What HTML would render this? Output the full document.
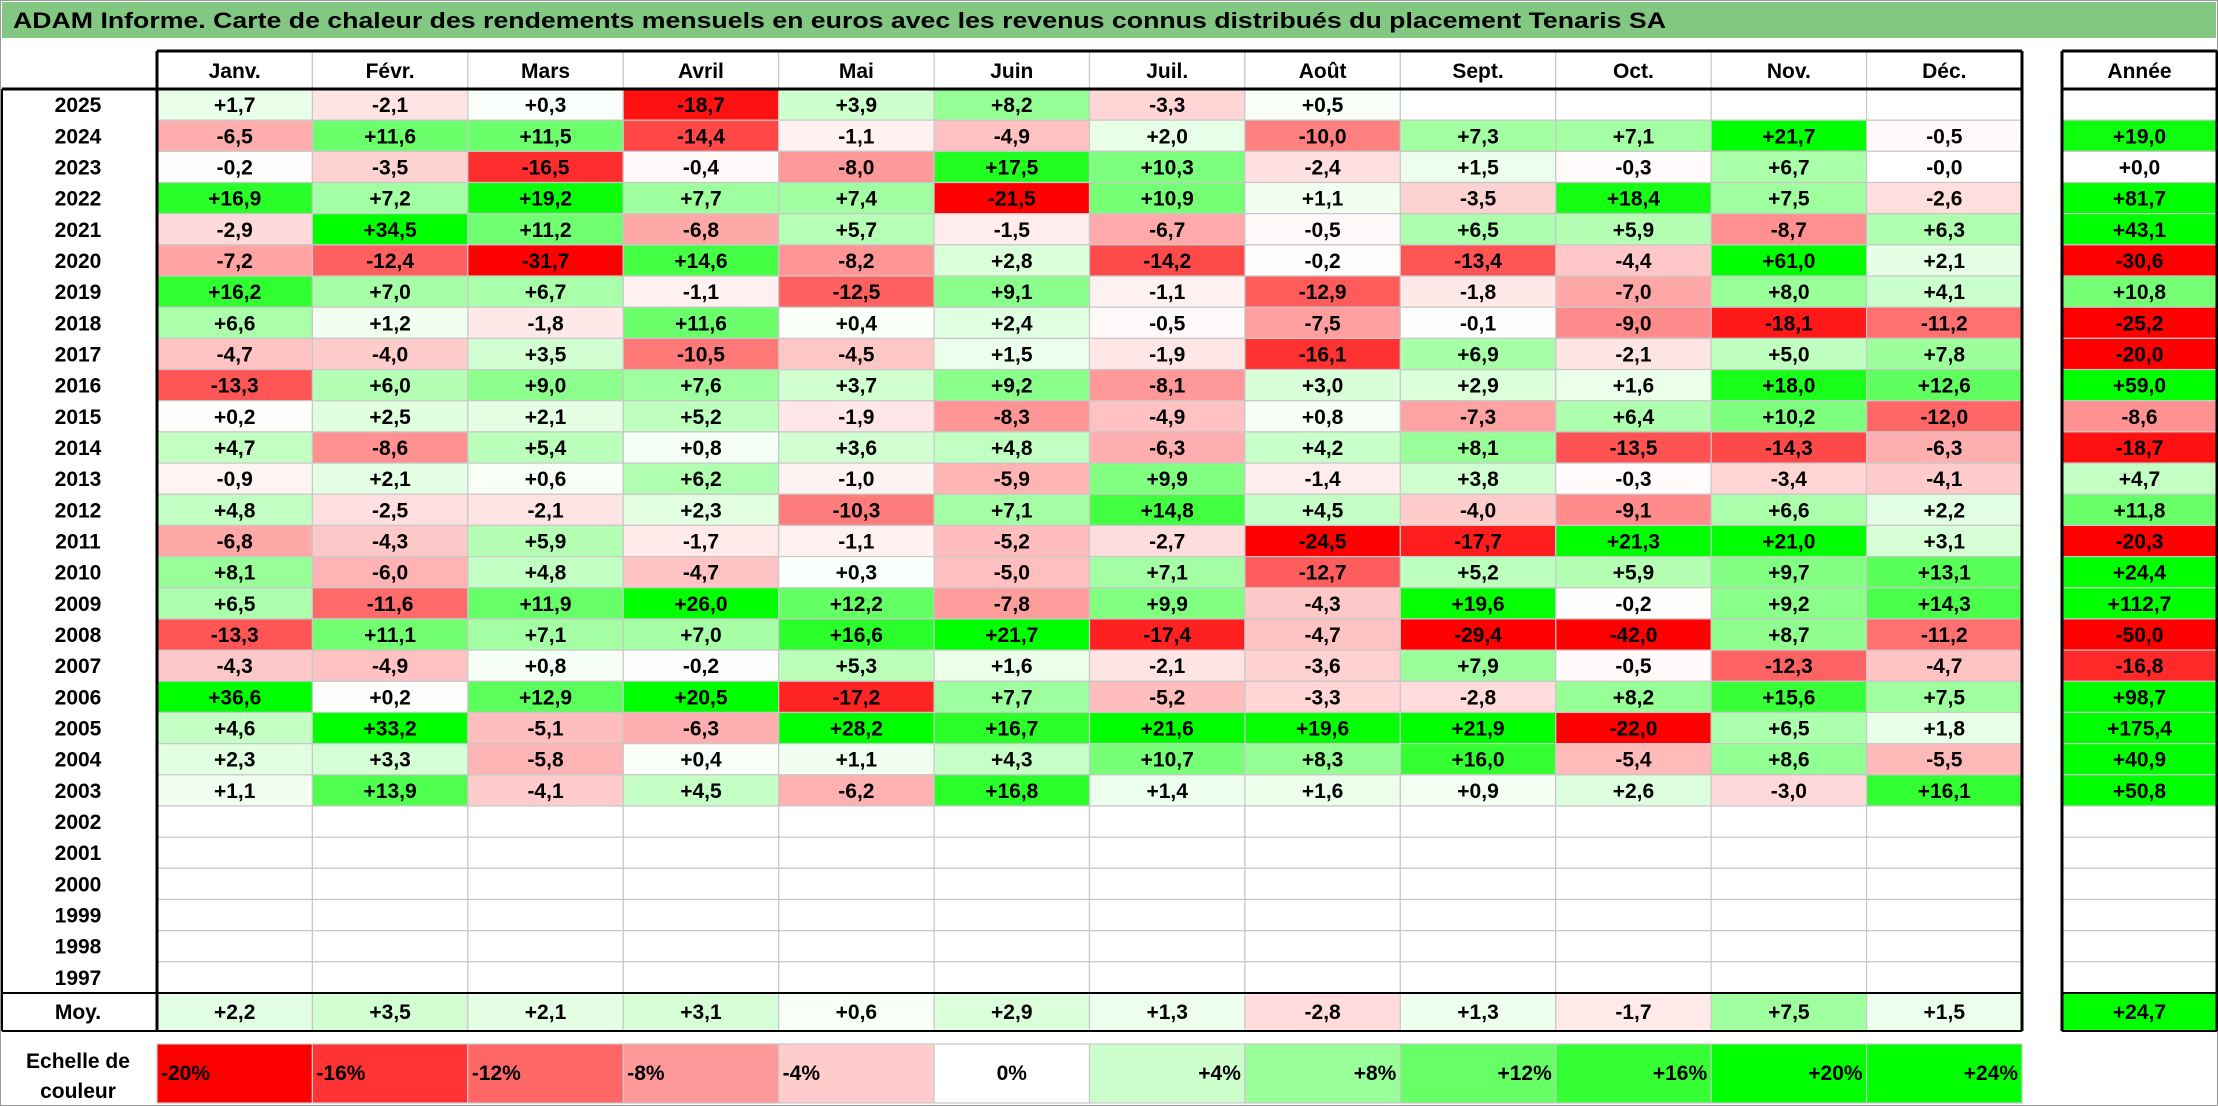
<!DOCTYPE html>
<html><head><meta charset="utf-8"><style>
html,body{margin:0;padding:0;background:#fff;}
svg{display:block;font-family:"Liberation Sans",sans-serif;font-weight:bold;}
</style></head><body>
<svg id="chart" width="2218" height="1106" viewBox="0 0 2218 1106" xmlns="http://www.w3.org/2000/svg">
<rect x="0.5" y="0.5" width="2217" height="1105" fill="#fff" stroke="#999"/>
<rect x="2" y="2" width="2214" height="36" fill="#82C882"/>
<text x="13" y="28" font-size="22" textLength="1653" lengthAdjust="spacingAndGlyphs">ADAM Informe. Carte de chaleur des rendements mensuels en euros avec les revenus connus distribués du placement Tenaris SA</text>
<g id="cells"></g>
<g id="lines"></g>
<g id="texts"></g>
</svg>
<script>
const months = ["Janv.","Févr.","Mars","Avril","Mai","Juin","Juil.","Août","Sept.","Oct.","Nov.","Déc."];
const years = [2025,2024,2023,2022,2021,2020,2019,2018,2017,2016,2015,2014,2013,2012,2011,2010,2009,2008,2007,2006,2005,2004,2003,2002,2001,2000,1999,1998,1997];
const N = null;
const monthly = [
[1.7,-2.1,0.3,-18.7,3.9,8.2,-3.3,0.5,N,N,N,N],
[-6.5,11.6,11.5,-14.4,-1.1,-4.9,2.0,-10.0,7.3,7.1,21.7,-0.5],
[-0.2,-3.5,-16.5,-0.4,-8.0,17.5,10.3,-2.4,1.5,-0.3,6.7,-0.0],
[16.9,7.2,19.2,7.7,7.4,-21.5,10.9,1.1,-3.5,18.4,7.5,-2.6],
[-2.9,34.5,11.2,-6.8,5.7,-1.5,-6.7,-0.5,6.5,5.9,-8.7,6.3],
[-7.2,-12.4,-31.7,14.6,-8.2,2.8,-14.2,-0.2,-13.4,-4.4,61.0,2.1],
[16.2,7.0,6.7,-1.1,-12.5,9.1,-1.1,-12.9,-1.8,-7.0,8.0,4.1],
[6.6,1.2,-1.8,11.6,0.4,2.4,-0.5,-7.5,-0.1,-9.0,-18.1,-11.2],
[-4.7,-4.0,3.5,-10.5,-4.5,1.5,-1.9,-16.1,6.9,-2.1,5.0,7.8],
[-13.3,6.0,9.0,7.6,3.7,9.2,-8.1,3.0,2.9,1.6,18.0,12.6],
[0.2,2.5,2.1,5.2,-1.9,-8.3,-4.9,0.8,-7.3,6.4,10.2,-12.0],
[4.7,-8.6,5.4,0.8,3.6,4.8,-6.3,4.2,8.1,-13.5,-14.3,-6.3],
[-0.9,2.1,0.6,6.2,-1.0,-5.9,9.9,-1.4,3.8,-0.3,-3.4,-4.1],
[4.8,-2.5,-2.1,2.3,-10.3,7.1,14.8,4.5,-4.0,-9.1,6.6,2.2],
[-6.8,-4.3,5.9,-1.7,-1.1,-5.2,-2.7,-24.5,-17.7,21.3,21.0,3.1],
[8.1,-6.0,4.8,-4.7,0.3,-5.0,7.1,-12.7,5.2,5.9,9.7,13.1],
[6.5,-11.6,11.9,26.0,12.2,-7.8,9.9,-4.3,19.6,-0.2,9.2,14.3],
[-13.3,11.1,7.1,7.0,16.6,21.7,-17.4,-4.7,-29.4,-42.0,8.7,-11.2],
[-4.3,-4.9,0.8,-0.2,5.3,1.6,-2.1,-3.6,7.9,-0.5,-12.3,-4.7],
[36.6,0.2,12.9,20.5,-17.2,7.7,-5.2,-3.3,-2.8,8.2,15.6,7.5],
[4.6,33.2,-5.1,-6.3,28.2,16.7,21.6,19.6,21.9,-22.0,6.5,1.8],
[2.3,3.3,-5.8,0.4,1.1,4.3,10.7,8.3,16.0,-5.4,8.6,-5.5],
[1.1,13.9,-4.1,4.5,-6.2,16.8,1.4,1.6,0.9,2.6,-3.0,16.1],
[N,N,N,N,N,N,N,N,N,N,N,N],[N,N,N,N,N,N,N,N,N,N,N,N],[N,N,N,N,N,N,N,N,N,N,N,N],
[N,N,N,N,N,N,N,N,N,N,N,N],[N,N,N,N,N,N,N,N,N,N,N,N],[N,N,N,N,N,N,N,N,N,N,N,N]
];
const annual = [N,19.0,0.0,81.7,43.1,-30.6,10.8,-25.2,-20.0,59.0,-8.6,-18.7,4.7,11.8,-20.3,24.4,112.7,-50.0,-16.8,98.7,175.4,40.9,50.8,N,N,N,N,N,N];
const averages = [2.2,3.5,2.1,3.1,0.6,2.9,1.3,-2.8,1.3,-1.7,7.5,1.5];
const averageYear = 24.7;
const scaleLabels = ["-20%","-16%","-12%","-8%","-4%","0%","+4%","+8%","+12%","+16%","+20%","+24%"];
const scaleValues = [-20,-16,-12,-8,-4,0,4,8,12,16,20,24];

const NS="http://www.w3.org/2000/svg";
const gC=document.getElementById('cells'),gL=document.getElementById('lines'),gT=document.getElementById('texts');
const X0=157,CW=(2022-157)/12,AX=2062,AW=155,HY0=51,HY1=89,RH=(993-89)/29,MY0=993,MY1=1031,LY0=1044,LY1=1103;
function colX(i){return X0+i*CW;}
function rowY(r){return HY1+r*RH;}
function color(v){
  if(v===null) return '#ffffff';
  const t=Math.min(Math.abs(v)/20,1), c=Math.round(255*(1-t));
  return v<0 ? `rgb(255,${c},${c})` : `rgb(${c},255,${c})`;
}
function fmt(v){
  const s=(v<0||Object.is(v,-0))?'-':'+';
  return s+Math.abs(v).toFixed(1).replace('.',',');
}
function rect(x,y,w,h,fill,name){
  const r=document.createElementNS(NS,'rect');
  r.setAttribute('x',x);r.setAttribute('y',y);r.setAttribute('width',w);r.setAttribute('height',h);
  r.setAttribute('fill',fill);r.setAttribute('stroke','#C8C8C8');r.setAttribute('stroke-width','1.2');
  
  
  gC.appendChild(r);return r;
}
function text(x,y,s,name,anchor){
  const t=document.createElementNS(NS,'text');
  t.setAttribute('x',x);t.setAttribute('y',y);t.setAttribute('font-size','21');
  t.setAttribute('text-anchor',anchor||'middle');t.textContent=s;
  
  
  gT.appendChild(t);return t;
}
function line(x1,y1,x2,y2,w,name){
  const l=document.createElementNS(NS,'line');
  l.setAttribute('x1',x1);l.setAttribute('y1',y1);l.setAttribute('x2',x2);l.setAttribute('y2',y2);
  l.setAttribute('stroke','#000');l.setAttribute('stroke-width',w);
  
  
  gL.appendChild(l);
}
// header
months.forEach((m,i)=>{
  rect(colX(i),HY0,CW,HY1-HY0,'#fff','month-header-cell');
  text(colX(i)+CW/2,HY0+27,m,'month-header');
});
rect(AX,HY0,AW,HY1-HY0,'#fff','year-header-cell');
text(AX+AW/2,HY0+27,'Année','year-total-header');
// rows
years.forEach((y,r)=>{
  const ry=rowY(r);
  text(78,ry+RH/2+7.5,String(y),'row-label-'+y);
  monthly[r].forEach((v,i)=>{
    rect(colX(i),ry,CW,RH,color(v),'cell-'+y+'-'+(i+1));
    if(v!==null) text(colX(i)+CW/2,ry+RH/2+7.5,fmt(v),'value-'+y+'-'+(i+1));
  });
  const a=annual[r];
  rect(AX,ry,AW,RH,color(a),'year-total-cell-'+y);
  if(a!==null) text(AX+AW/2,ry+RH/2+7.5,fmt(a),'year-total-'+y);
});
// averages
text(78,MY0+26,'Moy.','average-row-label');
averages.forEach((v,i)=>{
  rect(colX(i),MY0,CW,MY1-MY0,color(v),'average-cell');
  text(colX(i)+CW/2,MY0+26,fmt(v),'average-value');
});
rect(AX,MY0,AW,MY1-MY0,color(averageYear),'average-year-cell');
text(AX+AW/2,MY0+26,fmt(averageYear),'average-year-value');
// legend
text(78,1068,'Echelle de','legend-title-line1');
text(78,1098,'couleur','legend-title-line2');
scaleValues.forEach((v,i)=>{
  rect(colX(i),LY0,CW,LY1-LY0,color(v),'legend-swatch');
  let x=colX(i)+CW/2,anc='middle';
  if(v<0){x=colX(i)+4;anc='start';} else if(v>0){x=colX(i)+CW-4;anc='end';}
  text(x,LY0+36,scaleLabels[i],'legend-label',anc);
});
// black borders
line(X0,HY0,2022,HY0,3,'header-top-border');
line(X0,HY0,X0,MY1,3,'grid-left-border');
line(2022,HY0,2022,MY1,3,'grid-right-border');
line(2,HY1,2022,HY1,3,'header-bottom-border');
line(2,MY0,2022,MY0,2,'average-top-border');
line(2,MY1,2022,MY1,2,'average-bottom-border');
line(2,HY1,2,MY1,2,'label-left-border');
line(AX,HY0,AX+AW,HY0,3,'year-top-border');
line(AX,HY1,AX+AW,HY1,3,'year-header-bottom');
line(AX,HY0,AX,MY1,3,'year-left-border');
line(AX+AW,HY0,AX+AW,MY1,3,'year-right-border');
line(AX,MY0,AX+AW,MY0,2,'year-average-top');
line(AX,MY1,AX+AW,MY1,2,'year-average-bottom');
</script>
</body></html>
